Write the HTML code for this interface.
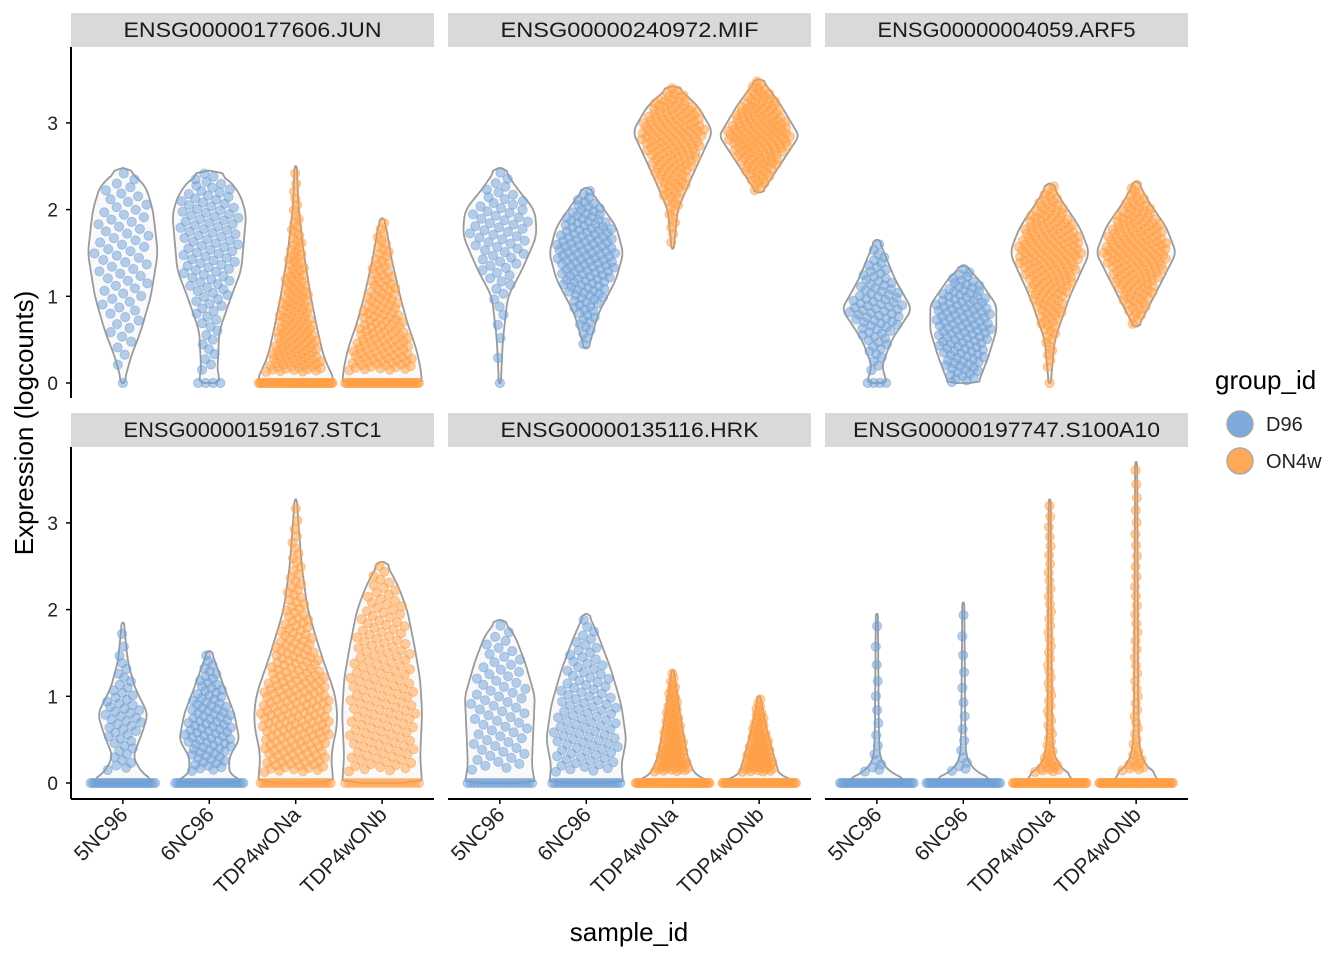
<!DOCTYPE html>
<html><head><meta charset="utf-8">
<style>
body{margin:0;background:#fff;}
svg{display:block;font-family:"Liberation Sans",sans-serif;}
</style></head>
<body>
<svg id="chart" width="1344" height="960" viewBox="0 0 1344 960" xmlns="http://www.w3.org/2000/svg"></svg>
<script>
const genes=['ENSG00000177606.JUN','ENSG00000240972.MIF','ENSG00000004059.ARF5','ENSG00000159167.STC1','ENSG00000135116.HRK','ENSG00000197747.S100A10'];
const samples=['5NC96','6NC96','TDP4wONa','TDP4wONb'];
const sampleGroups=['D96','D96','ON4w','ON4w'];
const groupLabels=['D96','ON4w'];
const yTicks=[0,1,2,3];
// violin density profiles per gene per sample: expression levels and relative density
const levels=[
 [[0,0.3,0.6,1.0,1.5,2.0,2.3,2.48],[0,0.1,0.6,1.0,1.3,1.95,2.2,2.4,2.45],[0,0.1,0.3,0.6,1.0,1.5,2.0,2.5],[0,0.2,0.4,0.7,1.0,1.4,1.8,1.9]],
 [[0,0.5,1.0,1.3,1.7,2.0,2.2,2.48],[0.4,0.8,1.2,1.5,1.8,2.1,2.25],[1.55,2.0,2.4,2.9,3.2,3.42],[2.2,2.5,2.85,3.2,3.5]],
 [[0,0.2,0.5,0.85,1.2,1.65],[0,0.3,0.6,0.9,1.2,1.35],[0,0.5,1.0,1.5,1.8,2.1,2.3],[0.65,1.0,1.5,1.8,2.1,2.32]],
 [[0,0.1,0.3,0.6,0.8,1.1,1.4,1.85],[0,0.1,0.3,0.5,0.8,1.1,1.52],[0,0.3,0.7,1.0,1.5,2.0,2.5,3.27],[0,0.3,0.8,1.2,1.6,2.0,2.3,2.55]],
 [[0,0.2,0.5,1.0,1.4,1.7,1.88],[0,0.2,0.5,0.9,1.3,1.7,1.95],[0,0.1,0.3,0.6,0.9,1.3],[0,0.1,0.3,0.6,1.0]],
 [[0,0.05,0.15,0.3,0.6,1.95],[0,0.05,0.15,0.3,0.6,2.08],[0,0.05,0.2,0.4,1.0,3.27],[0,0.05,0.2,0.4,1.0,3.7]]
];
const density=[
 [[1,8,18,28,35,30,22,1],[12,8,10,22,32,37,30,15,1],[40,36,28,22,15,8,3,1],[40,38,34,25,18,10,4,1]],
 [[1,3,8,22,37,35,20,3],[2,12,30,37,30,12,2],[1,5,20,40,25,3],[3,20,40,22,3]],
 [[10,5,15,35,18,2],[15,25,33,33,15,2],[1,5,20,40,30,12,2],[2,18,40,30,12,2]],
 [[35,20,10,20,25,12,5,1],[37,20,20,30,25,15,2],[38,35,42,40,25,12,6,1],[40,38,40,38,32,25,15,3]],
 [[35,32,33,35,25,15,3],[37,35,40,35,25,12,2],[40,22,15,10,6,1],[40,20,15,8,1]],
 [[40,25,10,3,2,1],[40,25,10,3,2,1],[40,22,8,3,2,1],[40,22,8,3,2,1]]
];
// number of cells with non-zero expression and with exactly zero
const counts=[[65,105,160,140],[65,140,170,160],[80,120,200,180],[50,90,230,160],[65,100,110,85],[15,15,55,45]];
const zeros=[[1,4,60,50],[1,0,0,0],[4,0,1,0],[30,30,25,20],[20,25,60,50],[40,40,60,60]];

const svg=document.getElementById('chart');
const NS='http://www.w3.org/2000/svg';
function mk(tag,attrs,parent){const e=document.createElementNS(NS,tag);for(const k in attrs)e.setAttribute(k,attrs[k]);(parent||svg).appendChild(e);return e;}
const colX=[71,448,825], panelW=363;
const rowTop=[47,447], zeroY=[383,783], unit=86.7;
const colors={D96:'#6f9fd6',ON4w:'#ff9f45'};
function xPos(col,i){return colX[col]+(0.6+i)*(panelW/4.2);}
function yPos(row,v){return zeroY[row]-v*unit;}
function interp(ls,ds,y){if(y<=ls[0])return ds[0];for(let i=1;i<ls.length;i++){if(y<=ls[i]){const t=(y-ls[i-1])/(ls[i]-ls[i-1]);return ds[i-1]+t*(ds[i]-ds[i-1]);}}return ds[ds.length-1];}
function dot(x,y,c,parent){mk('circle',{cx:x.toFixed(1),cy:y.toFixed(1),r:'4.6',fill:c,'fill-opacity':'0.5',stroke:c,'stroke-opacity':'0.5','stroke-width':'1'},parent);}

for(let g=0;g<6;g++){
 const row=Math.floor(g/3), col=g%3;
 const pg=mk('g',{});
 
 
 const strip=mk('rect',{x:colX[col],y:rowTop[row]-34,width:panelW,height:34,fill:'#d9d9d9'},pg);
 
 
 const st=mk('text',{x:colX[col]+panelW/2,y:rowTop[row]-10,'text-anchor':'middle','font-size':'21','textLength':'258','lengthAdjust':'spacingAndGlyphs',fill:'#1a1a1a'},pg);
 if(g===5) st.setAttribute('textLength','307');
 st.textContent=genes[g];
 
 
 for(let s=0;s<4;s++){
  const ls=levels[g][s], ds=density[g][s], cx=xPos(col,s);
  const y0=ls[0], y1=ls[ls.length-1];
  const N=80, fine=[];
  for(let k=0;k<=N;k++){const y=y0+(y1-y0)*k/N;fine.push([y,interp(ls,ds,y)]);}
  const sm=fine.map((p,k)=>{let a=0,c=0;for(let j=-3;j<=3;j++){const q=fine[k+j];if(q){a+=q[1];c++;}}return [p[0],(k===0||k===N)?Math.max(p[1]*0.5,0.5):a/c];});
  let d='M'+cx+','+yPos(row,y0);
  sm.forEach(p=>{d+=' L'+(cx+p[1]).toFixed(1)+','+yPos(row,p[0]).toFixed(1);});
  for(let k=sm.length-1;k>=0;k--){const p=sm[k];d+=' L'+(cx-p[1]).toFixed(1)+','+yPos(row,p[0]).toFixed(1);}
  d+='Z';
  const vp=mk('path',{d:d,fill:'#f9f9f9',stroke:'#9a9a9a','stroke-width':'1.8'},pg);
  
  
  const col2=colors[sampleGroups[s]];
  const gp=mk('g',{},pg);
  
  
  const nz=zeros[g][s], w0=Math.max(ds[0]*0.92,2);
  for(let k=0;k<nz;k++){const off=nz>1?-w0+2*w0*k/(nz-1):0;dot(cx+off,yPos(row,0),col2,gp);}
  const startY=nz>0?Math.min(0.12,y1*0.5):y0;
  const sub=sm.filter(p=>p[0]>=startY);
  const cum=[0];for(let k=1;k<sub.length;k++)cum.push(cum[k-1]+(sub[k][1]+sub[k-1][1])/2);
  const tot=cum[cum.length-1], n=counts[g][s];
  for(let k=0;k<n;k++){
   const q=(k+0.5)/n*tot;let j=1;while(j<cum.length-1&&cum[j]<q)j++;
   const t=(q-cum[j-1])/((cum[j]-cum[j-1])||1);
   const y=sub[j-1][0]+t*(sub[j][0]-sub[j-1][0]);
   const w=interp(sm.map(p=>p[0]),sm.map(p=>p[1]),y);
   const off=w*0.85*(((k*0.618034)%1)*2-1);
   dot(cx+off,yPos(row,y),col2,gp);
  }
 }
 if(col===0){
  const ax=mk('line',{x1:71,x2:71,y1:rowTop[row],y2:row===0?398:799,stroke:'#000','stroke-width':'2'},pg);
  
  
  yTicks.forEach(v=>{
   mk('line',{x1:66,x2:71,y1:yPos(row,v),y2:yPos(row,v),stroke:'#000','stroke-width':'1.5'},pg);
   const tl=mk('text',{x:58,y:yPos(row,v)+7,'text-anchor':'end','font-size':'19',fill:'#222'},pg);
   tl.textContent=v;
   
   
  });
 }
 if(row===1){
  const xa=mk('line',{x1:colX[col],x2:colX[col]+panelW,y1:799,y2:799,stroke:'#000','stroke-width':'2'},pg);
  
  
  samples.forEach((s,i)=>{
   const x=xPos(col,i);
   mk('line',{x1:x,x2:x,y1:799,y2:804,stroke:'#000','stroke-width':'1.5'},pg);
   const tl=mk('text',{x:x+6,y:816,'text-anchor':'end','font-size':'21',fill:'#222',transform:'rotate(-45 '+(x+6)+' 816)'},pg);
   tl.textContent=s;
   
   
  });
 }
}
const xt=mk('text',{x:629,y:941,'text-anchor':'middle','font-size':'26',fill:'#000'});
xt.textContent='sample_id';


const yt=mk('text',{x:33,y:423,'text-anchor':'middle','font-size':'26',fill:'#000',transform:'rotate(-90 33 423)'});
yt.textContent='Expression (logcounts)';


const lg=mk('g',{});


const lt=mk('text',{x:1215,y:389,'font-size':'26',fill:'#000'},lg);
lt.textContent='group_id';


groupLabels.forEach((gl,i)=>{
 const y=424+i*37;
 const e=mk('g',{},lg);
 
 
 mk('circle',{cx:1240,cy:y,r:13,fill:colors[gl],'fill-opacity':'0.9',stroke:'#aaa','stroke-width':'1.5'},e);
 const t=mk('text',{x:1266,y:y+7,'font-size':'20',fill:'#222'},e);
 t.textContent=gl;
});
</script>
</body></html>
